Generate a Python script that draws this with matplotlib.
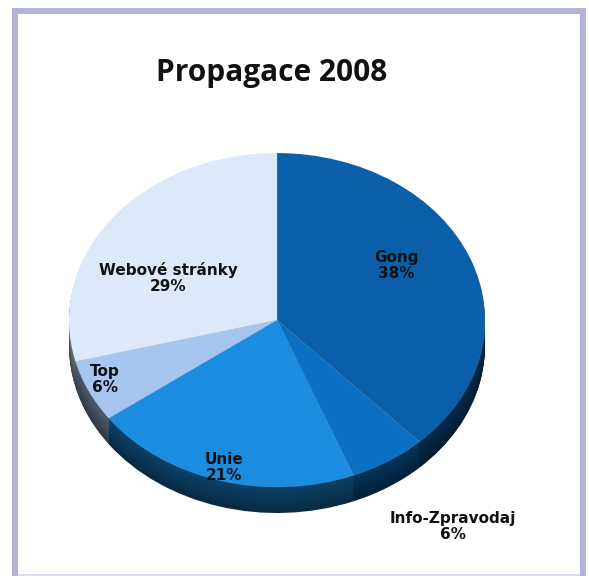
import matplotlib.pyplot as plt
import matplotlib.colors as mcolors
import numpy as np

# data
labels = ['Gong', 'Info-Zpravodaj', 'Unie', 'Top', 'Webové stránky']
values = [38, 6, 21, 6, 29]
colors = ['#0b5ea9', '#0a70c3', '#1a8de0', '#a6c6ef', '#dbe9fb']
title = 'Propagace 2008'

W, H = 589, 576
fig = plt.figure(figsize=(W / 100, H / 100), dpi=100)
fig.patch.set_facecolor('white')

# lavender frame
bg = fig.add_axes([0, 0, 1, 1])
bg.set_xlim(0, W)
bg.set_ylim(H, 0)
bg.axis('off')
frame = '#b3b3d8'
bg.add_patch(plt.Rectangle((12, 8), 574, 6, color=frame, lw=0))
bg.add_patch(plt.Rectangle((12, 8), 6, 570, color=frame, lw=0))
bg.add_patch(plt.Rectangle((580, 8), 6, 570, color=frame, lw=0))
bg.add_patch(plt.Rectangle((18, 574), 562, 2, color='#dcdcf0', lw=0))

fig.text(272 / W, 1 - 73 / H, title, ha='center', va='center',
         fontsize=21.5, family='Open Sans', fontweight='bold', color='#111111')

# pie geometry (pixels)
cx, cy, rx, ry, depth = 277, 320, 208, 167, 26
d = depth / ry
ax = fig.add_axes([(cx - rx) / W, (H - (cy + ry + depth)) / H, 2 * rx / W, ry * (2 + d) / H])

# 3D side: stack of darkened pies
side = [tuple(np.array(mcolors.to_rgb(c)) * 0.36) for c in colors]
for k in np.linspace(d, 0.01, 30):
    shade = 1 - 0.6 * (k / d)
    cols = [tuple(np.clip(np.array(s) * (0.5 + 0.8 * shade), 0, 1)) for s in side]
    ax.pie(values, colors=cols, startangle=90, counterclock=False, radius=1,
           center=(0, -k), wedgeprops=dict(linewidth=0), frame=True)
ax.pie(values, colors=colors, startangle=90, counterclock=False, radius=1,
       center=(0, 0), wedgeprops=dict(linewidth=0.4, edgecolor='#ffffff30'), frame=True)
ax.set_aspect('auto')
ax.set_xlim(-1, 1)
ax.set_ylim(-1 - d, 1)
ax.axis('off')

# labels
label_r = [0.66, 1.50, 0.92, 0.9, 0.58]
angle_shift = [8, 2, 0, -2, 12]
total = sum(values)
start = 90
for lab, v, r, sh in zip(labels, values, label_r, angle_shift):
    mid = start - 360 * v / total / 2
    start -= 360 * v / total
    t = np.deg2rad(mid + sh)
    ax.text(r * np.cos(t), r * np.sin(t), '%s\n%d%%' % (lab, round(100 * v / total)),
            ha='center', va='center', fontsize=11, fontweight='bold',
            family='DejaVu Sans', color='#111111', linespacing=1.1, clip_on=False)

fig.savefig('out.png', dpi=100)
